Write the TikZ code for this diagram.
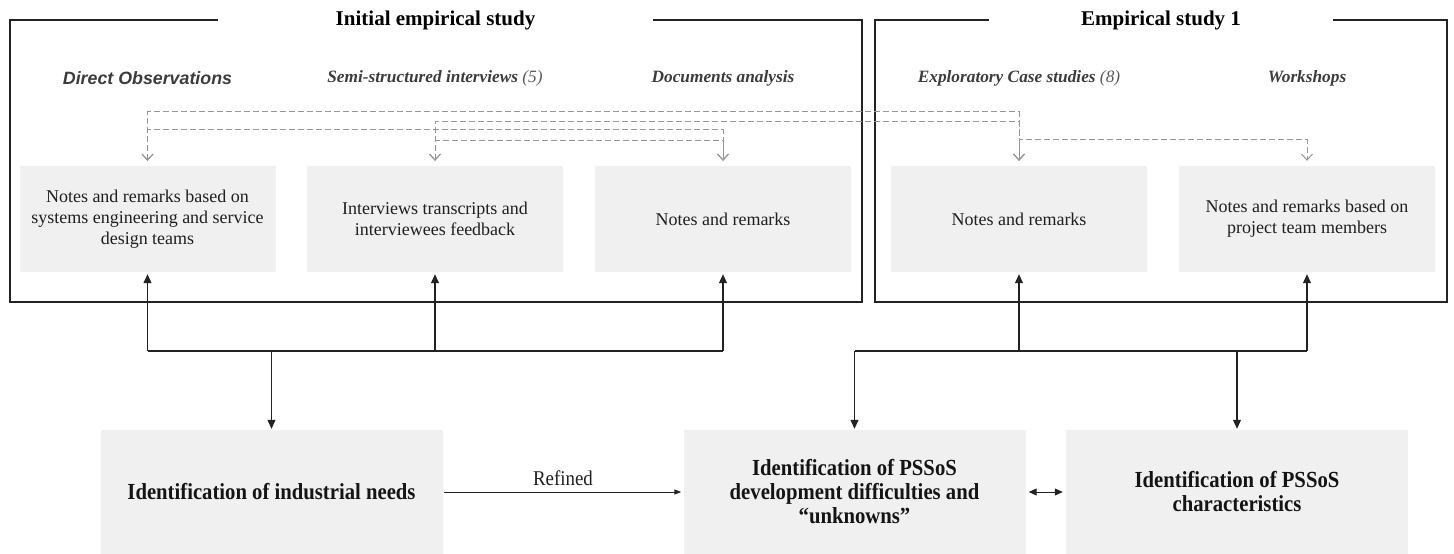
\documentclass[tikz,border=0pt]{standalone}
\usepackage{fontspec}
\setmainfont{Liberation Serif}
\newfontfamily\headsans{Liberation Sans}
\newfontfamily\condserif[FakeStretch=0.9]{Liberation Serif}
\usetikzlibrary{arrows.meta}
\definecolor{boxfill}{RGB}{240,240,240}
\definecolor{dashgray}{RGB}{150,150,150}
\definecolor{headgray}{RGB}{60,60,60}
\definecolor{linegray}{RGB}{35,35,35}
\begin{document}
\begin{tikzpicture}[x=1pt,y=-1pt,
  topbox/.style={fill=boxfill, minimum width=256pt, minimum height=106pt, inner sep=0pt, align=center, font=\fontsize{18}{21}\selectfont, text=black!88},
  botbox/.style={fill=boxfill, minimum width=342pt, minimum height=124pt, inner sep=0pt, align=center, font=\condserif\fontsize{23}{24}\selectfont\bfseries, text=black!92},
  head/.style={font=\fontsize{17.3}{20}\selectfont\bfseries\itshape, text=headgray},
  title/.style={font=\fontsize{21}{24}\selectfont\bfseries, text=black},
  frameline/.style={draw=linegray, line width=1.1pt},
  dashc/.style={draw=dashgray, line width=1pt, dash pattern=on 6pt off 3pt, {Straight Barb[length=6pt,width=11pt]}-{Straight Barb[length=6pt,width=11pt]}, shorten <=5pt, shorten >=5pt},
  conn/.style={draw=linegray, line width=1.1pt},
  arr/.style={conn, -{Triangle[length=9pt,width=8pt]}},
  thinarr/.style={draw=linegray, line width=0.9pt, -{Triangle[length=7pt,width=5pt]}},
  dblarr/.style={draw=linegray, line width=1pt, {Triangle[length=8pt,width=7pt]}-{Triangle[length=8pt,width=7pt]}, shorten <=3pt, shorten >=3pt}
]
\useasboundingbox (0,0) rectangle (1454,554);

% frames with titles
\node[title] (t1) at (435.5,20) {Initial empirical study};
\node[title] (t2) at (1161,20) {Empirical study 1};
\draw[frameline] (218,20) -- (10,20) -- (10,302) -- (862,302) -- (862,20) -- (653,20);
\draw[frameline] (989,20) -- (875,20) -- (875,302) -- (1447,302) -- (1447,20) -- (1333,20);

% method headings
\node[head, font=\headsans\fontsize{17.8}{20}\selectfont\bfseries\itshape] (h1) at (147.5,78) {Direct Observations};
\node[head] (h2) at (435,78) {Semi-structured interviews {\mdseries\color{headgray!85}(5)}};
\node[head] (h3) at (723,78) {Documents analysis};
\node[head] (h4) at (1019,78) {Exploratory Case studies {\mdseries\color{headgray!85}(8)}};
\node[head] (h5) at (1307,78) {Workshops};

% top boxes
\node[topbox] (n1) at (147.5,219) {Notes and remarks based on\\systems engineering and service\\design teams};
\node[topbox] (n2) at (435,219) {Interviews transcripts and\\interviewees feedback};
\node[topbox] (n3) at (723,219) {Notes and remarks};
\node[topbox] (n4) at (1019,219) {Notes and remarks};
\node[topbox] (n5) at (1307,219) {Notes and remarks based on\\project team members};

% bottom boxes
\node[botbox] (n6) at (271.5,492) {Identification of industrial needs};
\node[botbox] (n7) at (854.5,492) {Identification of PSSoS\\development difficulties and\\“unknowns”};
\node[botbox] (n8) at (1237,492) {Identification of PSSoS\\characteristics};

% dashed links
\draw[dashc] (n1.north) -- ++(0,-54) -| (n4.north);
\draw[dashc] (n2.north) -- ++(0,-44) -| (n4.north);
\draw[dashc] (n1.north) -- ++(0,-36) -| (n3.north);
\draw[dashc] (n2.north) -- ++(0,-25) -| (n3.north);
\draw[dashc] (n4.north) -- ++(0,-26) -| (n5.north);

% solid connectors, left group
\coordinate (jl) at (271.5,351);
\draw[conn] (n1.south |- jl) -- (n3.south |- jl);
\draw[arr, shorten >=2pt] (n1.south |- jl) -- (n1.south);
\draw[arr, shorten >=2pt] (n2.south |- jl) -- (n2.south);
\draw[arr, shorten >=2pt] (n3.south |- jl) -- (n3.south);
\draw[arr, shorten >=1pt] (jl) -- (n6.north);

% solid connectors, right group
\coordinate (jr) at (854.5,351);
\draw[conn] (jr) -- (n5.south |- jr);
\draw[arr, shorten >=2pt] (n4.south |- jr) -- (n4.south);
\draw[arr, shorten >=2pt] (n5.south |- jr) -- (n5.south);
\draw[arr, shorten >=1pt] (jr) -- (n7.north);
\draw[arr, shorten >=1pt] (n8.north |- jr) -- (n8.north);

% bottom links
\draw[thinarr, shorten <=1pt, shorten >=2pt] (n6.east) -- node[above=3pt, font=\condserif\fontsize{21}{22}\selectfont, text=black!88] (lr) {Refined} (n7.west);
\draw[dblarr] (n7.east) -- (n8.west);
\end{tikzpicture}
\end{document}
